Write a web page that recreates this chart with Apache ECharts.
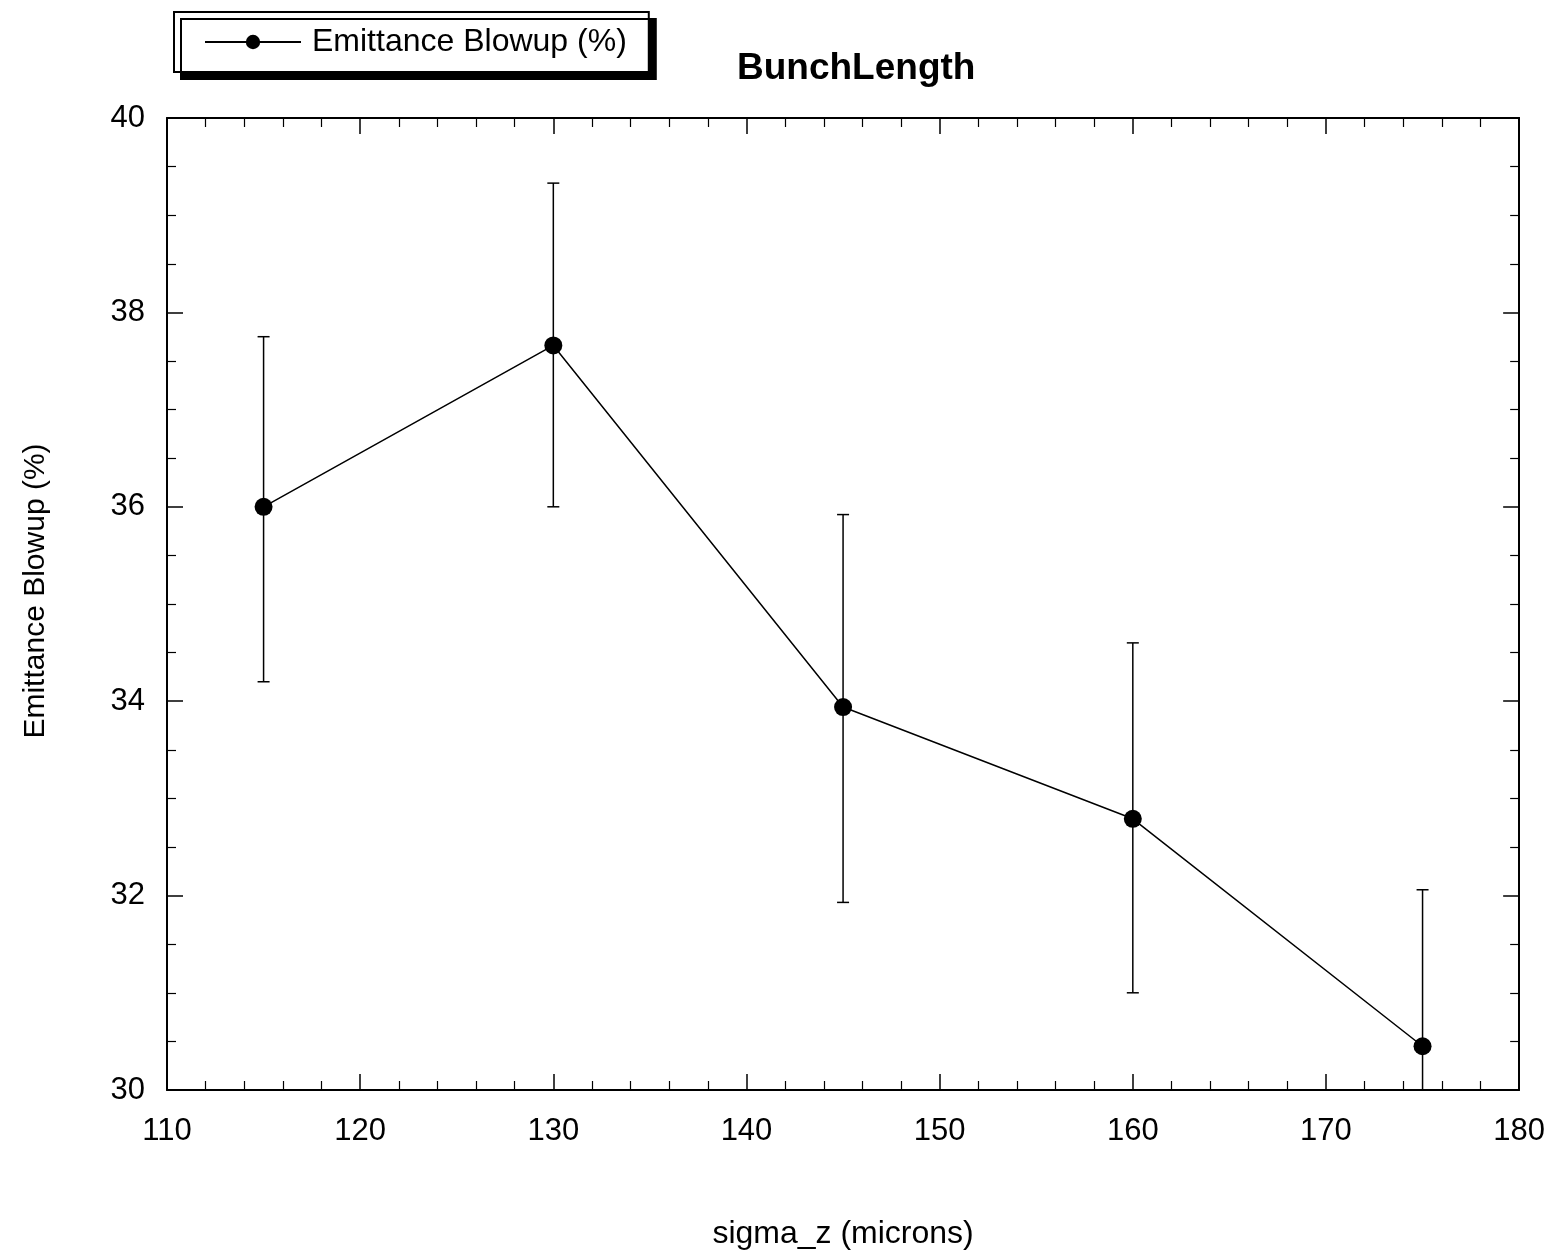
<!DOCTYPE html>
<html>
<head>
<meta charset="utf-8">
<script src="https://cdn.jsdelivr.net/npm/echarts@6/dist/echarts.min.js"></script>
<style>
  html, body { margin: 0; padding: 0; background: #fff; }
  #chart { width: 1548px; height: 1260px; }
</style>
</head>
<body>
<div id="chart"></div>
<script>
const sigmaZ = [115, 130, 145, 160, 175];
const blowup = [36.0, 37.66, 33.94, 32.79, 30.45];
const errLow = [34.2, 36.0, 31.93, 31.0, 28.85];
const errHigh = [37.75, 39.33, 35.92, 34.6, 32.06];

const font = "Liberation Sans, Arial, sans-serif";
const myChart = echarts.init(document.getElementById("chart"));

const axisCommon = {
  axisLine: { show: true, lineStyle: { color: "#000", width: 2 } },
  axisTick: { show: true, inside: true, length: 16, lineStyle: { color: "#000", width: 1.5 } },
  minorTick: { show: true, length: 9, lineStyle: { color: "#000", width: 1.2 } },
  splitLine: { show: false },
};

myChart.setOption({
  animation: false,
  backgroundColor: "#fff",
  title: {
    text: "BunchLength",
    left: 732,
    top: 45,
    textStyle: { fontFamily: font, fontSize: 37, fontWeight: "bold", color: "#000" },
  },
  legend: {
    left: 174,
    top: 12,
    padding: [14, 22, 14, 30],
    itemWidth: 96,
    itemHeight: 18,
    itemGap: 0,
    backgroundColor: "#fff",
    borderColor: "#000",
    borderWidth: 2,
    shadowColor: "#000",
    shadowOffsetX: 7,
    shadowOffsetY: 7,
    shadowBlur: 0,
    textStyle: { fontFamily: font, fontSize: 32, color: "#000", padding: [0, 0, 0, 6] },
    data: ["Emittance Blowup (%)"],
  },
  grid: { left: 167, right: 27, top: 118, bottom: 170 },
  xAxis: [
    {
      ...axisCommon,
      type: "value",
      min: 110,
      max: 180,
      interval: 10,
      minorTick: { ...axisCommon.minorTick, splitNumber: 5 },
      axisLabel: { fontFamily: font, fontSize: 31, color: "#000", margin: 26 },
      name: "sigma_z (microns)",
      nameLocation: "middle",
      nameGap: 128,
      nameTextStyle: { fontFamily: font, fontSize: 32, color: "#000" },
    },
    {
      ...axisCommon,
      type: "value",
      position: "top",
      min: 110,
      max: 180,
      interval: 10,
      minorTick: { ...axisCommon.minorTick, splitNumber: 5 },
      axisLabel: { show: false },
    },
  ],
  yAxis: [
    {
      ...axisCommon,
      type: "value",
      min: 30,
      max: 40,
      interval: 2,
      minorTick: { ...axisCommon.minorTick, splitNumber: 4 },
      axisLabel: { fontFamily: font, fontSize: 31, color: "#000", margin: 22 },
      name: "Emittance Blowup (%)",
      nameLocation: "middle",
      nameGap: 116,
      nameTextStyle: { fontFamily: font, fontSize: 30, color: "#000", padding: [0, 0, 0, 26] },
    },
    {
      ...axisCommon,
      type: "value",
      position: "right",
      min: 30,
      max: 40,
      interval: 2,
      minorTick: { ...axisCommon.minorTick, splitNumber: 4 },
      axisLabel: { show: false },
    },
  ],
  series: [
    {
      name: "Emittance Blowup (%)",
      type: "line",
      data: sigmaZ.map((x, i) => [x, blowup[i]]),
      symbol: "circle",
      symbolSize: 18,
      itemStyle: { color: "#000" },
      lineStyle: { color: "#000", width: 1.5 },
      z: 3,
    },
    {
      name: "errors",
      type: "custom",
      clip: true,
      data: sigmaZ.map((x, i) => [x, errLow[i], errHigh[i]]),
      renderItem(params, api) {
        const x = api.value(0);
        const lo = api.coord([x, api.value(1)]);
        const hi = api.coord([x, api.value(2)]);
        const cap = 6;
        const style = { stroke: "#000", lineWidth: 1.5 };
        return {
          type: "group",
          children: [
            { type: "line", shape: { x1: lo[0], y1: lo[1], x2: hi[0], y2: hi[1] }, style },
            { type: "line", shape: { x1: hi[0] - cap, y1: hi[1], x2: hi[0] + cap, y2: hi[1] }, style },
            { type: "line", shape: { x1: lo[0] - cap, y1: lo[1], x2: lo[0] + cap, y2: lo[1] }, style },
          ],
        };
      },
      z: 2,
    },
  ],
});
</script>
</body>
</html>
